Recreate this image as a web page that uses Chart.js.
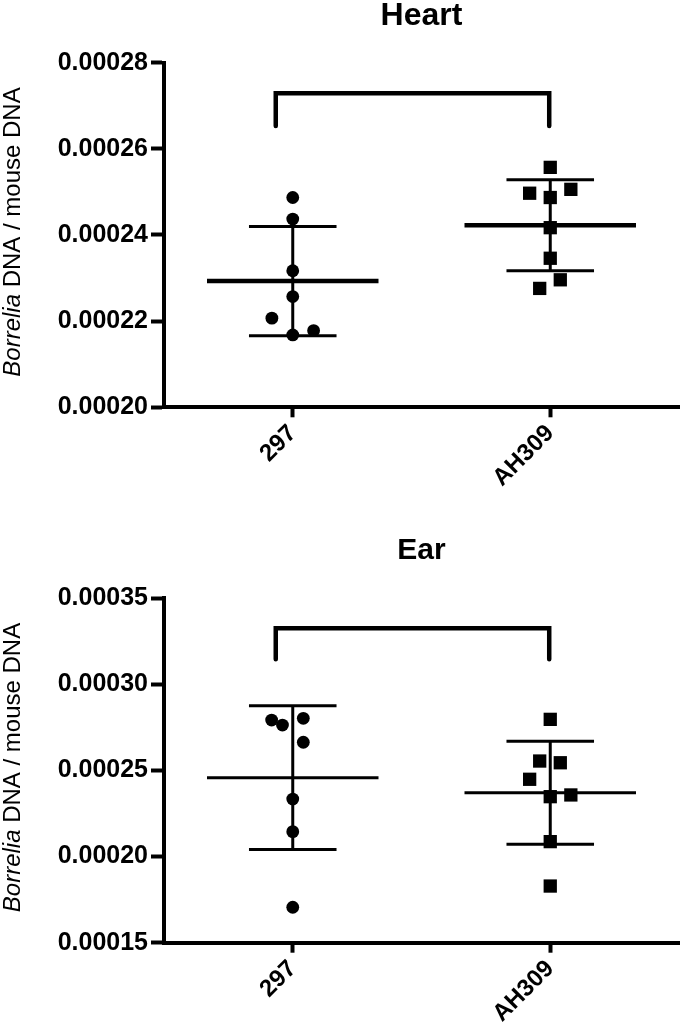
<!DOCTYPE html>
<html>
<head>
<meta charset="utf-8">
<script src="https://cdn.jsdelivr.net/npm/chart.js@4/dist/chart.umd.min.js"></script>
<style>
  body { margin: 0; background: #fff; }
  .panel { width: 680px; height: 516px; }
</style>
</head>
<body>
<div class="panel"><canvas id="heart" width="680" height="516"></canvas></div>
<div class="panel"><canvas id="ear" width="680" height="516"></canvas></div>
<script>
const groups = ['297', 'AH309'];

// Heart
const heart297 = [0.0002487, 0.0002437, 0.0002317, 0.0002257, 0.0002207, 0.0002168, 0.0002178];
const heartAH309 = [0.0002557, 0.0002497, 0.0002506, 0.0002487, 0.0002417, 0.0002346, 0.0002296, 0.0002276];
const heartTicks = [0.00020, 0.00022, 0.00024, 0.00026, 0.00028];
const heartBracket = [0.0002653, 0.0002729];

// Ear
const ear297 = [0.0002793, 0.0002764, 0.0002803, 0.0002664, 0.0002334, 0.0002145, 0.0001706];
const earAH309 = [0.0002797, 0.0002555, 0.0002545, 0.0002449, 0.0002348, 0.0002358, 0.0002087, 0.0001829];
const earTicks = [0.00015, 0.00020, 0.00025, 0.00030, 0.00035];
const earBracket = [0.0003146, 0.0003326];

// sideways spread of overlapping points, in group units
const heart297Spread = [0, 0, 0, 0, -0.081, 0, 0.081];
const heartAH309Spread = [0, -0.08, 0.08, 0, 0, 0, 0.039, -0.041];
const ear297Spread = [-0.082, -0.04, 0.041, 0.041, 0, 0, 0];
const earAH309Spread = [0, -0.041, 0.039, -0.08, 0, 0.08, 0, 0];

const FONT = '"Liberation Sans", Arial, sans-serif';
Chart.defaults.font.family = FONT;
Chart.defaults.color = '#000';

function mean(a) {
    return a.reduce((s, v) => s + v, 0) / a.length;
}

function sd(a) {
    const m = mean(a);
    return Math.sqrt(a.reduce((s, v) => s + (v - m) ** 2, 0) / (a.length - 1));
}

function segment(points, width) {
    return {
        data: points,
        showLine: true,
        borderColor: '#000',
        borderWidth: width,
        pointRadius: 0,
        borderCapStyle: 'butt',
        clip: false
    };
}

function meanSd(values, x, meanWidth) {
    const m = mean(values);
    const s = sd(values);
    return [
        segment([{ x: x - 0.333, y: m }, { x: x + 0.333, y: m }], meanWidth),
        segment([{ x: x - 0.17, y: m + s }, { x: x + 0.17, y: m + s }], 3),
        segment([{ x: x - 0.17, y: m - s }, { x: x + 0.17, y: m - s }], 3),
        segment([{ x: x, y: m - s }, { x: x, y: m + s }], 3)
    ];
}

function dots(values, spread, x, style, radius) {
    return {
        data: values.map((v, i) => ({ x: x + spread[i], y: v })),
        pointStyle: style,
        pointRadius: radius,
        pointBackgroundColor: '#000',
        pointBorderWidth: 0,
        clip: false
    };
}

const yTitle = {
    id: 'yTitle',
    afterDraw(chart) {
        const ctx = chart.ctx;
        const area = chart.chartArea;
        const italic = 'italic 24px ' + FONT;
        const normal = '24px ' + FONT;
        const p1 = 'Borrelia';
        const p2 = ' DNA / mouse DNA';
        ctx.save();
        ctx.font = italic;
        const w1 = ctx.measureText(p1).width;
        ctx.font = normal;
        const w2 = ctx.measureText(p2).width;
        ctx.translate(20, (area.top + area.bottom) / 2 - 3);
        ctx.rotate(-Math.PI / 2);
        ctx.fillStyle = '#000';
        ctx.textBaseline = 'alphabetic';
        ctx.textAlign = 'left';
        const start = -(w1 + w2) / 2;
        ctx.font = italic;
        ctx.fillText(p1, start, 0);
        ctx.font = normal;
        ctx.fillText(p2, start + w1, 0);
        ctx.restore();
    }
};

function makeChart(id, cfg) {
    const [lo, hi] = cfg.bracket;
    const bracket = segment([
        { x: -0.066, y: lo }, { x: -0.066, y: hi },
        { x: 0.996, y: hi }, { x: 0.996, y: lo }
    ], 4.5);
    bracket.borderCapStyle = 'round';
    bracket.borderJoinStyle = 'miter';

    new Chart(document.getElementById(id), {
        type: 'scatter',
        data: {
            datasets: [
                dots(cfg.a, cfg.aSpread, 0, 'circle', 6.4),
                dots(cfg.b, cfg.bSpread, 1, 'rect', 9.4),
                ...meanSd(cfg.a, 0, cfg.meanWidth),
                ...meanSd(cfg.b, 1, cfg.meanWidth),
                bracket
            ]
        },
        options: {
            responsive: false,
            animation: false,
            layout: { autoPadding: false, padding: { left: 0, right: 1, top: 0, bottom: 0 } },
            plugins: {
                legend: { display: false },
                tooltip: { enabled: false },
                title: {
                    display: true,
                    text: cfg.title,
                    fullSize: false,
                    color: '#000',
                    font: { size: cfg.titleSize, weight: 'bold', lineHeight: 1 },
                    padding: cfg.titlePadding
                }
            },
            scales: {
                x: {
                    type: 'linear',
                    min: -0.5,
                    max: 1.5,
                    afterBuildTicks: (s) => { s.ticks = groups.map((g, i) => ({ value: i })); },
                    afterFit: (s) => {
                        s.height = cfg.xHeight;
                        s.paddingLeft = 0;
                        s.paddingRight = 0;
                    },
                    ticks: {
                        callback: (v) => groups[v],
                        color: '#000',
                        font: { size: 24, weight: 'bold' },
                        minRotation: 45,
                        maxRotation: 45,
                        autoSkip: false,
                        padding: 2
                    },
                    grid: {
                        drawOnChartArea: false,
                        tickLength: 10,
                        tickWidth: 4,
                        tickColor: '#000'
                    },
                    border: { width: 4, color: '#000' }
                },
                y: {
                    type: 'linear',
                    min: cfg.ticks[0],
                    max: cfg.ticks[cfg.ticks.length - 1],
                    afterBuildTicks: (s) => { s.ticks = cfg.ticks.map((v) => ({ value: v })); },
                    afterFit: (s) => { s.width = 164; },
                    ticks: {
                        callback: (v) => v.toFixed(5),
                        color: '#000',
                        font: { size: 25, weight: 'bold' },
                        padding: 3
                    },
                    grid: {
                        drawOnChartArea: false,
                        tickLength: 13,
                        tickWidth: 4,
                        tickColor: '#000'
                    },
                    border: { width: 4, color: '#000' }
                }
            }
        },
        plugins: [yTitle]
    });
}

makeChart('heart', {
    title: 'Heart',
    titleSize: 32,
    titlePadding: { top: 0, bottom: 30.7 },
    xHeight: 108.7,
    meanWidth: 4.5,
    a: heart297, aSpread: heart297Spread,
    b: heartAH309, bSpread: heartAH309Spread,
    ticks: heartTicks,
    bracket: heartBracket
});

makeChart('ear', {
    title: 'Ear',
    titleSize: 30,
    titlePadding: { top: 19.4, bottom: 32.9 },
    xHeight: 89.3,
    meanWidth: 3,
    a: ear297, aSpread: ear297Spread,
    b: earAH309, bSpread: earAH309Spread,
    ticks: earTicks,
    bracket: earBracket
});
</script>
</body>
</html>
